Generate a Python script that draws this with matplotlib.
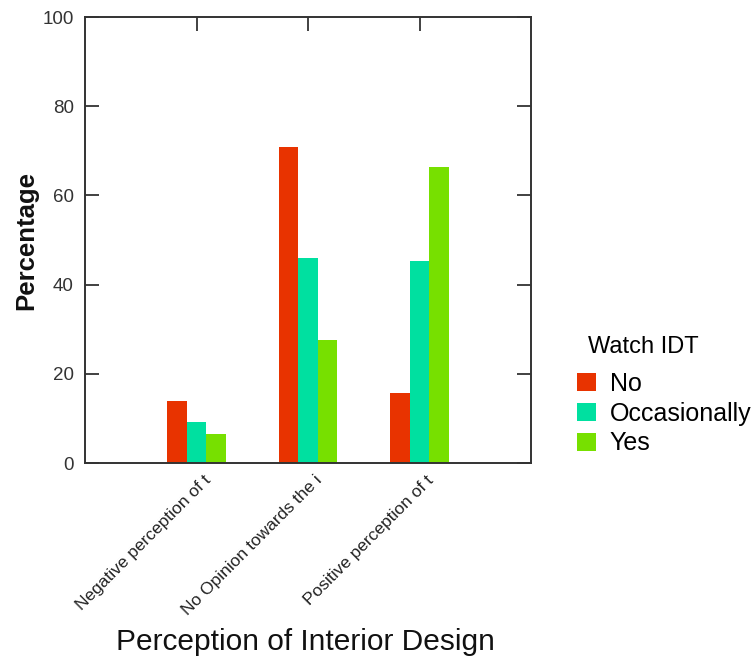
import matplotlib.pyplot as plt
import numpy as np
from matplotlib.patches import Patch
from matplotlib.transforms import ScaledTranslation

# データ
categories = [
    "Negative perception of t",
    "No Opinion towards the i",
    "Positive perception of t",
]
series_names = ["No", "Occasionally", "Yes"]
no_values = [14.0, 70.8, 15.8]
occasionally_values = [9.3, 45.9, 45.3]
yes_values = [6.4, 27.6, 66.4]
y_ticks = [0, 20, 40, 60, 80, 100]

colors = ["#e83300", "#00e0a0", "#77e000"]

plt.rcParams["font.family"] = ["Liberation Sans", "DejaVu Sans"]

fig = plt.figure(figsize=(7.53, 6.6), dpi=100)
ax = fig.add_axes([85 / 753, 1 - 463 / 660, 446 / 753, 446 / 660])

x = np.arange(1, len(categories) + 1)
width = 0.174
for i, (name, vals) in enumerate(
    zip(series_names, [no_values, occasionally_values, yes_values])
):
    ax.bar(x + (i - 1) * width, vals, width, color=colors[i], label=name, linewidth=0)

ax.set_xlim(0, 4)
ax.set_ylim(0, 100)
ax.set_yticks(y_ticks)
ax.set_yticklabels([str(v) for v in y_ticks], fontsize=13.5, color="#333333")
ax.set_xticks(x)
ax.set_xticklabels(
    categories, rotation=45, ha="right", va="center", rotation_mode="anchor",
    fontsize=12.5, color="#222222",
)

# 目盛りは内向き
ax.tick_params(axis="y", left=True, right=True, direction="in", length=10,
               width=1.3, color="#333333", pad=8)
ax.tick_params(axis="x", bottom=False, top=True, direction="in", length=10,
               width=1.3, color="#333333", pad=11)
offset = ScaledTranslation(0.12, 0, fig.dpi_scale_trans)
for lbl in ax.get_xticklabels():
    lbl.set_transform(lbl.get_transform() + offset)

for spine in ax.spines.values():
    spine.set_linewidth(1.4)
    spine.set_color("#333333")

ax.set_ylabel("Percentage", fontsize=18.5, fontweight="bold", color="#111111")
ax.yaxis.set_label_coords(-0.105, 0.5)
ax.set_xlabel("Perception of Interior Design", fontsize=21.5, color="#111111")
ax.xaxis.set_label_coords(0.495, -0.37)

handles = [Patch(facecolor=c, edgecolor="none") for c in colors]
leg = fig.legend(
    handles, series_names, title="Watch IDT", loc="upper left",
    bbox_to_anchor=(577 / 753, 1 - 336 / 660), frameon=False,
    borderpad=0, borderaxespad=0,
    fontsize=18, title_fontsize=17, handlelength=0.75, handleheight=0.75,
    handletextpad=0.55, labelspacing=0.23,
)
leg._legend_box.align = "left"
leg._legend_box.sep = 10
leg.get_title().set_position((11, 0))

fig.savefig("out.png", dpi=100, facecolor="white")
